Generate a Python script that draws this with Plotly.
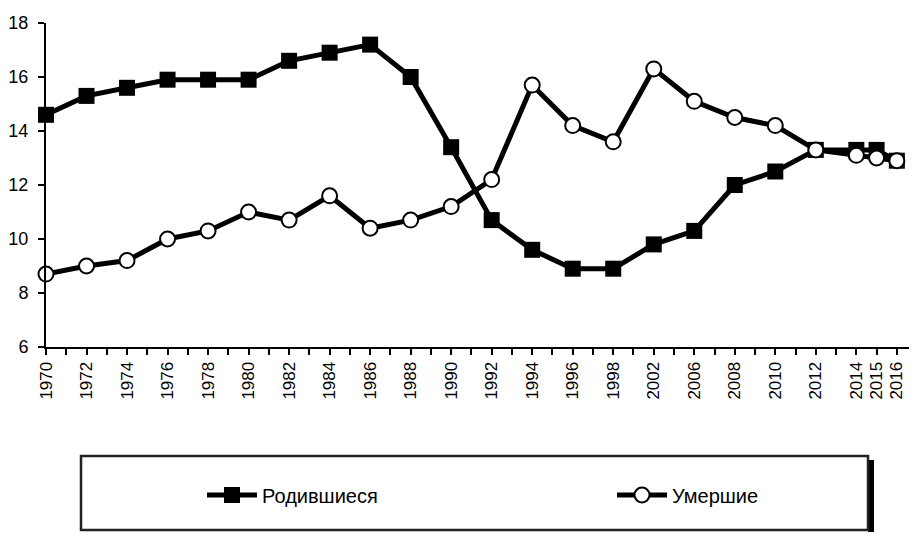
import plotly.graph_objects as go

years = ["1970", "1972", "1974", "1976", "1978", "1980", "1982", "1984", "1986",
         "1988", "1990", "1992", "1994", "1996", "1998", "2002", "2006", "2008",
         "2010", "2012", "2014", "2015", "2016"]
born = [14.6, 15.3, 15.6, 15.9, 15.9, 15.9, 16.6, 16.9, 17.2, 16.0, 13.4, 10.7,
        9.6, 8.9, 8.9, 9.8, 10.3, 12.0, 12.5, 13.3, 13.3, 13.3, 12.9]
died = [8.7, 9.0, 9.2, 10.0, 10.3, 11.0, 10.7, 11.6, 10.4, 10.7, 11.2, 12.2,
        15.7, 14.2, 13.6, 16.3, 15.1, 14.5, 14.2, 13.3, 13.1, 13.0, 12.9]
y_ticks = [6, 8, 10, 12, 14, 16, 18]

# slot positions on the axis: one slot per single year, two slots for longer gaps
slots = [0]
for a, b in zip(years[:-1], years[1:]):
    slots.append(slots[-1] + min(int(b) - int(a), 2))

FONT = "Liberation Sans, Arial, sans-serif"

fig = go.Figure()
fig.add_trace(go.Scatter(
    x=slots, y=born, name="Родившиеся", mode="lines+markers",
    line=dict(color="black", width=5),
    marker=dict(symbol="square", size=16, color="black"),
    cliponaxis=False, legend="legend",
))
fig.add_trace(go.Scatter(
    x=slots, y=died, name="Умершие", mode="lines+markers",
    line=dict(color="black", width=5),
    marker=dict(symbol="circle", size=15, color="white",
                line=dict(color="black", width=2)),
    cliponaxis=False, legend="legend2",
))

# page body has an 8px margin: figure coordinates = screen coordinates - 8;
# figure sized so the page fits the window without scrollbars
OFF = 8
W, H = 917 - 2 * OFF, 540 - 2 * OFF
L, T = 46 - OFF, 23 - OFF
B = H - (347 - OFF)
R = 0
pw, ph = W - L - R, H - T - B


def px(x):
    return (x - OFF - L) / pw


def py(y):
    return (H - B - (y - OFF)) / ph


shapes = [
    # legend shadow
    dict(type="rect", xref="paper", yref="paper",
         x0=px(868), x1=px(874), y0=py(460), y1=py(533),
         fillcolor="black", line=dict(width=0), layer="above"),
    # legend frame
    dict(type="rect", xref="paper", yref="paper",
         x0=px(81), x1=px(868), y0=py(456), y1=py(530),
         fillcolor="rgba(0,0,0,0)", line=dict(color="#222", width=2.5),
         layer="above"),
]

leg_common = dict(
    orientation="h", yanchor="middle", y=py(495), xanchor="left",
    font=dict(family=FONT, size=20, color="black"),
    bgcolor="rgba(0,0,0,0)", borderwidth=0, itemwidth=50,
)

fig.update_layout(
    width=W, height=H,
    margin=dict(l=L, r=R, t=T, b=B, autoexpand=False),
    paper_bgcolor="white", plot_bgcolor="white",
    font=dict(family=FONT, color="black", size=16),
    shapes=shapes,
    showlegend=True,
    legend=dict(x=px(202), **leg_common),
    legend2=dict(x=px(612), **leg_common),
    xaxis=dict(
        range=[0, slots[-1] + 0.6], tickmode="array", tickvals=slots,
        ticktext=years,
        tickangle=-90, ticks="outside", ticklen=6, tickwidth=2, tickcolor="black",
        showline=True, linecolor="black", linewidth=2, showgrid=False,
        zeroline=False, automargin=False, ticklabeloverflow="allow",
        tickfont=dict(family=FONT, size=17, color="black"),
        minor=dict(dtick=1, tick0=0, ticks="outside", ticklen=6, tickwidth=2,
                   tickcolor="black", showgrid=False),
    ),
    yaxis=dict(
        range=[6, 18], tickmode="array", tickvals=y_ticks,
        ticks="outside", ticklen=6, tickwidth=2, tickcolor="black",
        showline=True, linecolor="black", linewidth=2, showgrid=False,
        zeroline=False, automargin=False, ticklabelstandoff=6,
        tickfont=dict(family=FONT, size=18, color="black"),
    ),
)

fig.write_html("out.html")
